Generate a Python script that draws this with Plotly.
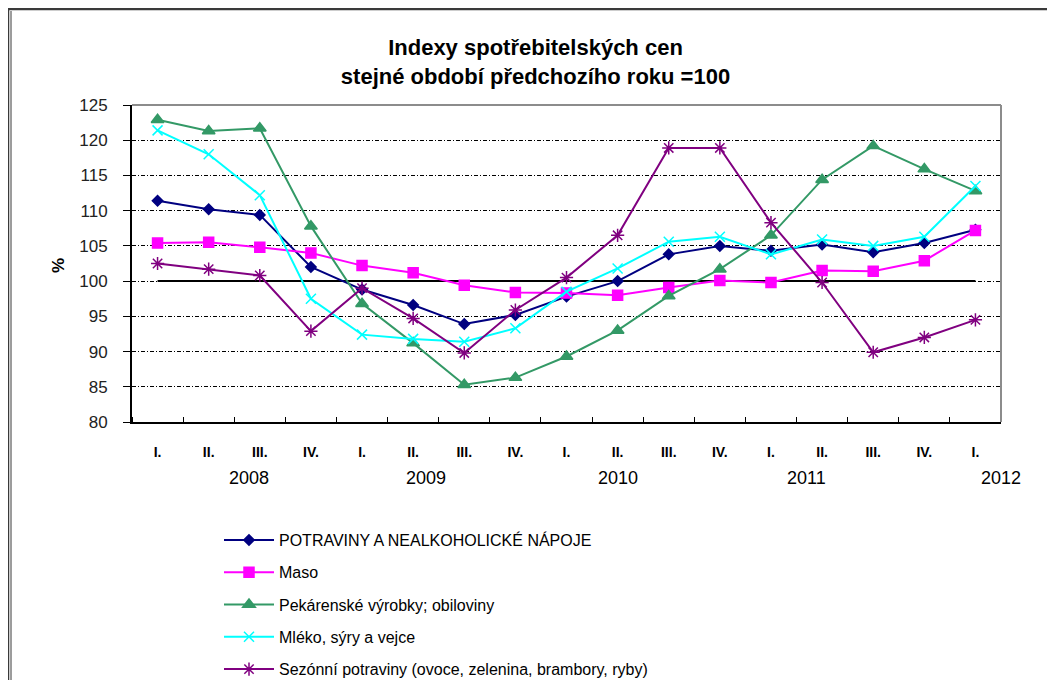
import plotly.graph_objects as go

# quarters 2008 I. .. 2012 I.
quarters = ["I.", "II.", "III.", "IV.", "I.", "II.", "III.", "IV.",
            "I.", "II.", "III.", "IV.", "I.", "II.", "III.", "IV.", "I."]
years = ["2008", "2009", "2010", "2011", "2012"]
year_pos = [1.78, 5.25, 9.0, 12.7, 16.5]

potraviny = [111.4, 110.2, 109.4, 102.0, 98.8, 96.6, 93.9, 95.2,
             97.8, 100.0, 103.8, 105.0, 104.3, 105.2, 104.1, 105.4, 107.3]
maso = [105.4, 105.5, 104.8, 104.0, 102.2, 101.2, 99.4, 98.4,
        98.3, 98.0, 99.1, 100.1, 99.8, 101.5, 101.4, 102.9, 107.2]
pekarenske = [122.9, 121.3, 121.7, 107.8, 96.8, 91.2, 85.3, 86.3,
              89.3, 93.0, 97.9, 101.7, 106.5, 114.4, 119.2, 115.9, 112.8]
mleko = [121.4, 118.0, 112.2, 97.5, 92.4, 91.8, 91.4, 93.3,
         98.5, 101.8, 105.6, 106.3, 103.8, 105.9, 105.0, 106.3, 113.5]
sezonni = [102.5, 101.7, 100.8, 92.9, 99.0, 94.7, 89.8, 95.9,
           100.5, 106.5, 118.9, 118.9, 108.3, 99.8, 89.9, 92.0, 94.5]
baseline = [100] * len(quarters)

series = [
    ("POTRAVINY A NEALKOHOLICKÉ NÁPOJE", potraviny, "#000080", "diamond", 8),
    ("Maso", maso, "#FF00FF", "square", 10),
    ("Pekárenské výrobky; obiloviny", pekarenske, "#339966", "triangle-up", 11),
    ("Mléko, sýry a vejce", mleko, "#00FFFF", "x-thin-open", 10),
    ("Sezónní potraviny (ovoce, zelenina, brambory, ryby)", sezonni, "#800080", "asterisk-open", 11),
]

# the page body has an 8px margin, so the plot box is placed 8px up/left
PL, PT, PW, PH = 132, 105, 869, 317   # plot area as seen on screen


def px(sx):
    return (sx - PL) / PW


def py(sy):
    return (PT + PH - sy) / PH


x = list(range(len(quarters)))
fig = go.Figure()

fig.add_trace(go.Scatter(x=x, y=baseline, mode="lines", line=dict(color="black", width=2),
                         showlegend=False, hoverinfo="skip"))

for name, vals, color, symbol, size in series:
    fig.add_trace(go.Scatter(
        x=x, y=vals, name=name, mode="lines+markers", legendgroup=name,
        line=dict(color=color, width=2),
        marker=dict(symbol=symbol, size=size, color=color,
                    line=dict(color=color, width=1.5))
    ))

for yr, pos in zip(years, year_pos):
    fig.add_annotation(x=pos, y=py(478), xref="x", yref="paper", text=yr, showarrow=False,
                       font=dict(family="Liberation Sans, Arial", size=18, color="black"),
                       xanchor="center", yanchor="middle")

fig.add_annotation(x=px(58), y=py(266), xref="paper", yref="paper", text="<b>%</b>",
                   showarrow=False, textangle=-90, xanchor="center", yanchor="middle",
                   font=dict(size=17, color="black"))

# plot area border (grey top/right) and outer chart frame
fig.add_shape(type="line", xref="paper", yref="paper", x0=0, x1=1, y0=1, y1=1,
              line=dict(color="#8c8c8c", width=2), layer="above")
fig.add_shape(type="line", xref="paper", yref="paper", x0=1, x1=1, y0=0, y1=1,
              line=dict(color="#8c8c8c", width=2), layer="above")
fig.add_shape(type="rect", xref="paper", yref="paper",
              x0=px(8), x1=px(1070), y0=py(700), y1=py(9),
              line=dict(color="#3a3a3a", width=2.5), layer="above")
fig.add_shape(type="line", xref="paper", yref="paper",
              x0=px(11), x1=px(11), y0=py(700), y1=py(11),
              line=dict(color="#3a3a3a", width=1), layer="above")

fig.update_layout(
    width=1055, height=680,
    margin=dict(l=124, r=62, t=97, b=266, autoexpand=False),
    paper_bgcolor="white", plot_bgcolor="white",
    font=dict(family="Liberation Sans, Arial", color="black"),
    title=dict(text="<b>Indexy spotřebitelských cen<br>stejné období předchozího roku =100</b>",
               x=0.5, xanchor="center", y=1 - 47 / 680, yanchor="middle",
               font=dict(size=22, color="black")),
    legend=dict(xref="container", yref="container", x=211 / 1055, y=1 - 515 / 680,
                xanchor="left", yanchor="top", font=dict(size=16, color="black"),
                tracegroupgap=8.5, itemwidth=50, bgcolor="rgba(0,0,0,0)"),
    showlegend=True,
)

fig.update_xaxes(
    range=[-0.5, len(quarters) - 0.5], tickmode="array", tickvals=x,
    ticktext=["<b>%s</b>" % q for q in quarters],
    ticks="", showgrid=False, zeroline=False,
    showline=True, linecolor="black", linewidth=2,
    ticklabelstandoff=16,
    tickfont=dict(size=14, color="black", family="Liberation Sans, Arial"),
    minor=dict(tickmode="linear", tick0=-0.5, dtick=1, ticks="inside", ticklen=5,
               tickcolor="black", tickwidth=1, showgrid=False),
)
fig.update_yaxes(
    range=[80, 125], tickmode="linear", tick0=80, dtick=5,
    ticks="outside", ticklen=7, tickcolor="black",
    showgrid=True, gridcolor="black", gridwidth=1, griddash="4px,2px,1px,2px",
    zeroline=False, showline=True, linecolor="black", linewidth=2,
    ticklabelstandoff=12,
    tickfont=dict(size=17, color="#222222"),
)

fig.write_html("out.html")
